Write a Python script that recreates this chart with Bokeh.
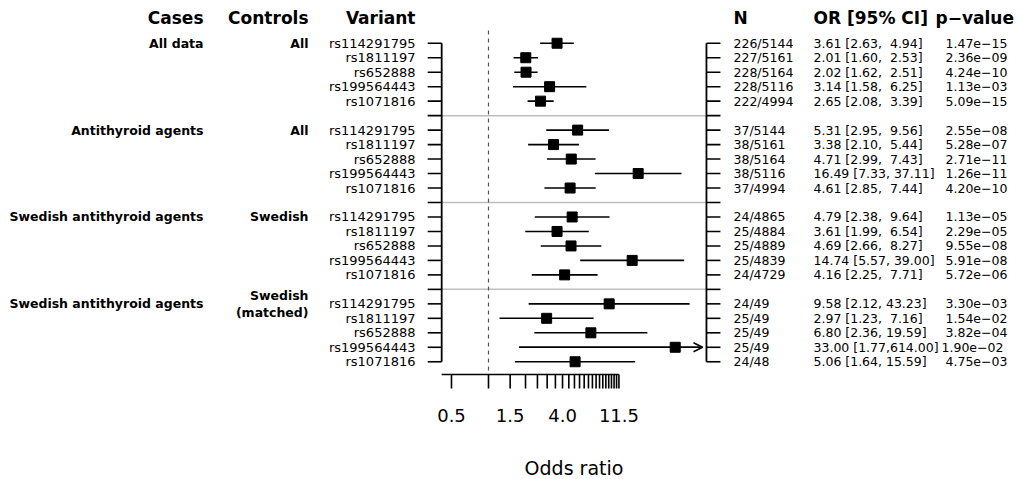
import math
from bokeh.plotting import figure
from bokeh.models import (Range1d, LinearScale, Arrow, OpenHead, ColumnDataSource)
from bokeh.core.properties import value
from bokeh.embed import file_html
from bokeh.resources import INLINE

# ---------------- data ----------------
case_groups = ["All data", "Antithyroid agents", "Swedish antithyroid agents", "Swedish antithyroid agents"]
control_groups = ["All", "All", "Swedish", "Swedish\n(matched)"]
variants = ["rs114291795", "rs1811197", "rs652888", "rs199564443", "rs1071816"]

n_counts = ["226/5144", "227/5161", "228/5164", "228/5116", "222/4994",
            "37/5144", "38/5161", "38/5164", "38/5116", "37/4994",
            "24/4865", "25/4884", "25/4889", "25/4839", "24/4729",
            "24/49", "25/49", "25/49", "25/49", "24/48"]
odds = [3.61, 2.01, 2.02, 3.14, 2.65,
        5.31, 3.38, 4.71, 16.49, 4.61,
        4.79, 3.61, 4.69, 14.74, 4.16,
        9.58, 2.97, 6.80, 33.00, 5.06]
ci_low = [2.63, 1.60, 1.62, 1.58, 2.08,
          2.95, 2.10, 2.99, 7.33, 2.85,
          2.38, 1.99, 2.66, 5.57, 2.25,
          2.12, 1.23, 2.36, 1.77, 1.64]
ci_high = [4.94, 2.53, 2.51, 6.25, 3.39,
           9.56, 5.44, 7.43, 37.11, 7.44,
           9.64, 6.54, 8.27, 39.00, 7.71,
           43.23, 7.16, 19.59, 614.00, 15.59]
p_values = [1.47e-15, 2.36e-09, 4.24e-10, 1.13e-03, 5.09e-15,
            2.55e-08, 5.28e-07, 2.71e-11, 1.26e-11, 4.20e-10,
            1.13e-05, 2.29e-05, 9.55e-08, 5.91e-08, 5.72e-06,
            3.30e-03, 1.54e-02, 3.82e-04, 1.90e-02, 4.75e-03]

x_major_ticks = [0.5, 1.5, 4.0, 11.5]
x_minor_ticks = [0.5, 1.0, 1.5, 2.0, 2.5, 3.0, 3.5, 4.0, 4.5, 5.0, 5.5, 6.0,
                 6.5, 7.0, 7.5, 8.0, 8.5, 9.0, 9.5, 10.0, 10.5, 11.0, 11.5]
x_axis_title = "Odds ratio"
x_data_lim = (0.5, 49.3)
arrow_clip = 55.0

# ---------------- layout ----------------
W, H = 1023, 479
AXIS_PX = 374.0
ONE_PX = 488.0
PX_PER_LN = 53.4
N_ROWS = 23
PAD = 0.04
y_pad = PAD * (N_ROWS - 1)
row_top, row_bot = -y_pad, (N_ROWS - 1) + y_pad
REGION_TOP_PX = 30.0
px_per_row = (AXIS_PX - REGION_TOP_PX) / (row_bot - row_top)


def row_at(px):
    return row_top + (px - REGION_TOP_PX) / px_per_row


lnlo, lnhi = math.log(x_data_lim[0]), math.log(x_data_lim[1])
BOX_LO = math.exp(lnlo - PAD * (lnhi - lnlo))
BOX_HI = math.exp(lnhi + PAD * (lnhi - lnlo))
TICK_LEN = math.exp(14 / PX_PER_LN)

FONT = value("DejaVu Sans")

p = figure(width=W, height=H, output_backend="svg", toolbar_location=None,
           title=None, x_axis_type="log", x_axis_location=None, y_axis_location=None,
           x_range=Range1d(math.exp(-ONE_PX / PX_PER_LN), math.exp((W - ONE_PX) / PX_PER_LN)),
           y_range=Range1d(row_at(H), row_at(0)),
           min_border_left=0, min_border_right=0, min_border_top=0, min_border_bottom=0)
p.extra_x_ranges = {"px": Range1d(0, W)}
p.extra_x_scales = {"px": LinearScale()}
p.xgrid.visible = False
p.ygrid.visible = False
p.outline_line_color = None
p.background_fill_color = "white"
p.border_fill_color = "white"

# rows
rows = [(i // 5) * 6 + (i % 5) for i in range(len(odds))]
sep_rows = [5, 11, 17]
all_rows = list(range(N_ROWS))

# separators
p.segment(x0=[BOX_LO] * 3, x1=[BOX_HI] * 3, y0=sep_rows, y1=sep_rows,
          line_color="#BEBEBE", line_width=1.5)
# reference line at OR = 1
p.segment(x0=[1.0], x1=[1.0], y0=[row_top], y1=[row_bot],
          line_color="#555555", line_width=1.2, line_dash="4 4")
# side box lines and ticks
p.segment(x0=[BOX_LO, BOX_HI], x1=[BOX_LO, BOX_HI], y0=[0, 0], y1=[N_ROWS - 1] * 2,
          line_color="black", line_width=1.8)
p.segment(x0=[BOX_LO] * N_ROWS, x1=[BOX_LO / TICK_LEN] * N_ROWS, y0=all_rows, y1=all_rows,
          line_color="black", line_width=1.6)
p.segment(x0=[BOX_HI] * N_ROWS, x1=[BOX_HI * TICK_LEN] * N_ROWS, y0=all_rows, y1=all_rows,
          line_color="black", line_width=1.6)

# confidence intervals
hi_clipped = [min(h, arrow_clip) for h in ci_high]
src = ColumnDataSource(dict(row=rows, odds=odds, lo=ci_low, hi=hi_clipped))
p.segment(x0="lo", x1="hi", y0="row", y1="row", source=src, line_color="black", line_width=1.6)
for lo, h, r in zip(ci_low, ci_high, rows):
    if h > arrow_clip:
        p.add_layout(Arrow(end=OpenHead(size=9, line_width=1.6, line_color="black"),
                           x_start=lo, y_start=r, x_end=arrow_clip, y_end=r,
                           line_width=1.6, line_color="black"))
p.scatter(x="odds", y="row", source=src, marker="square", size=10,
          fill_color="black", line_color="black")

# x axis (drawn on the log scale)
tick_end = row_at(AXIS_PX + 14)
p.segment(x0=[BOX_LO], x1=[x_major_ticks[-1]], y0=[row_bot], y1=[row_bot],
          line_color="black", line_width=1.6)
p.segment(x0=x_minor_ticks, x1=x_minor_ticks, y0=[row_bot] * len(x_minor_ticks),
          y1=[tick_end] * len(x_minor_ticks), line_color="black", line_width=1.6)
p.text(x=x_major_ticks, y=[row_at(415)] * len(x_major_ticks),
       text=[f"{t:.1f}" for t in x_major_ticks], text_font=FONT, text_font_size="18px",
       text_align="center", text_baseline="middle", text_color="black")

# ---------------- texts ----------------
HEAD_ROW = row_at(17.5)
COL_CASES, COL_CTRL, COL_VAR = 203, 308, 415
COL_N, COL_OR, COL_PHEAD, COL_P = 733, 813, 935, 945


def txt(x, y, t, align="left", size="13px", bold=False):
    p.text(x=x, y=y, text=t, x_range_name="px", text_font=FONT, text_font_size=size,
           text_align=align, text_baseline="middle", text_color="black",
           text_font_style="bold" if bold else "normal")


txt([(441 + 706) / 2], [row_at(467.5)], [x_axis_title], align="center", size="19px")

txt([COL_CASES, COL_CTRL, COL_VAR], [HEAD_ROW] * 3, ["Cases", "Controls", "Variant"],
    align="right", size="17px", bold=True)
txt([COL_N, COL_OR, COL_PHEAD], [HEAD_ROW] * 3, ["N", "OR [95% CI]", "p\u2212value"],
    align="left", size="17px", bold=True)

g_x, g_y, g_t = [], [], []
for g, (cs, ct) in enumerate(zip(case_groups, control_groups)):
    base = g * 6
    g_x.append(COL_CASES); g_y.append(base); g_t.append(cs)
    lines = ct.split("\n")
    for j, ln in enumerate(lines):
        g_x.append(COL_CTRL)
        g_y.append(base + (j - (len(lines) - 1) / 2) * 1.15)
        g_t.append(ln)
txt(g_x, g_y, g_t, align="right", size="12.5px", bold=True)

txt([COL_VAR] * len(rows), rows, [variants[i % 5] for i in range(len(rows))],
    align="right", size="13px")

NBSP = "\u00a0"
or_str = [f"{o:.2f}{NBSP}[{lo:.2f},{h:6.2f}]".replace(" ", NBSP)
          for o, lo, h in zip(odds, ci_low, ci_high)]
p_str = [f"{pv:.2e}".replace("-", "\u2212") for pv in p_values]
p_x = [COL_P - 4 if h >= 100 else COL_P for h in ci_high]
txt([COL_N] * len(rows), rows, n_counts, size="12.5px")
txt([COL_OR] * len(rows), rows, or_str, size="12.5px")
txt(p_x, rows, p_str, size="12.5px")

open("out.html", "w").write(file_html(p, INLINE))
